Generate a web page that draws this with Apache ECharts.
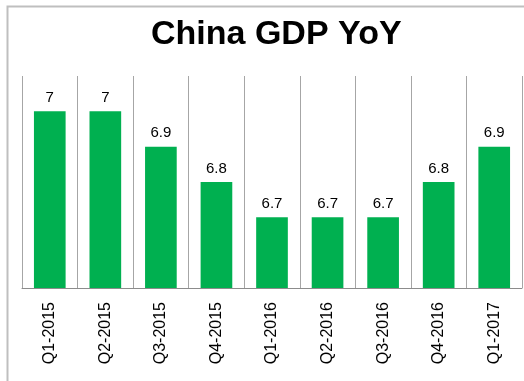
<!DOCTYPE html>
<html>
<head>
<meta charset="utf-8">
<script src="https://cdn.jsdelivr.net/npm/echarts@6/dist/echarts.min.js"></script>
<style>
  html, body { margin: 0; padding: 0; background: #fff; }
  #main { width: 524px; height: 381px; }
</style>
</head>
<body>
<div id="main"></div>
<script>
// 季度
var quarters = ['Q1-2015', 'Q2-2015', 'Q3-2015', 'Q4-2015', 'Q1-2016', 'Q2-2016', 'Q3-2016', 'Q4-2016', 'Q1-2017'];
// GDP 同比
var gdpYoY = [7, 7, 6.9, 6.8, 6.7, 6.7, 6.7, 6.8, 6.9];

var chart = echarts.init(document.getElementById('main'));

option = {
    backgroundColor: '#fff',
    animation: false,
    graphic: [
        {
            type: 'rect',
            shape: { x: 7.5, y: 6.5, width: 600, height: 500 },
            style: { fill: 'none', stroke: '#bfbfbf', lineWidth: 2 },
            silent: true
        }
    ],
    title: {
        text: 'China GDP YoY',
        left: 146,
        top: 13,
        textStyle: {
            fontFamily: 'Liberation Sans',
            fontWeight: 'bold',
            fontSize: 34,
            color: '#000'
        }
    },
    grid: {
        left: 22,
        right: 2,
        top: 76,
        bottom: 93
    },
    xAxis: {
        type: 'category',
        data: quarters,
        axisLine: { lineStyle: { color: '#8c8c8c', width: 1 } },
        axisTick: { show: false },
        splitLine: { show: true, lineStyle: { color: '#a6a6a6', width: 1 } },
        axisLabel: {
            rotate: 90,
            margin: 14,
            fontFamily: 'Liberation Sans',
            fontSize: 16,
            color: '#000'
        }
    },
    yAxis: {
        type: 'value',
        min: 6.5,
        max: 7.1,
        show: false,
        splitLine: { show: false }
    },
    series: [
        {
            type: 'bar',
            data: gdpYoY,
            barWidth: '57%',
            itemStyle: { color: '#00b050' },
            label: {
                show: true,
                position: 'top',
                distance: 6,
                fontFamily: 'Liberation Sans',
                fontSize: 15,
                color: '#000'
            }
        }
    ]
};

chart.setOption(option);
</script>
</body>
</html>
